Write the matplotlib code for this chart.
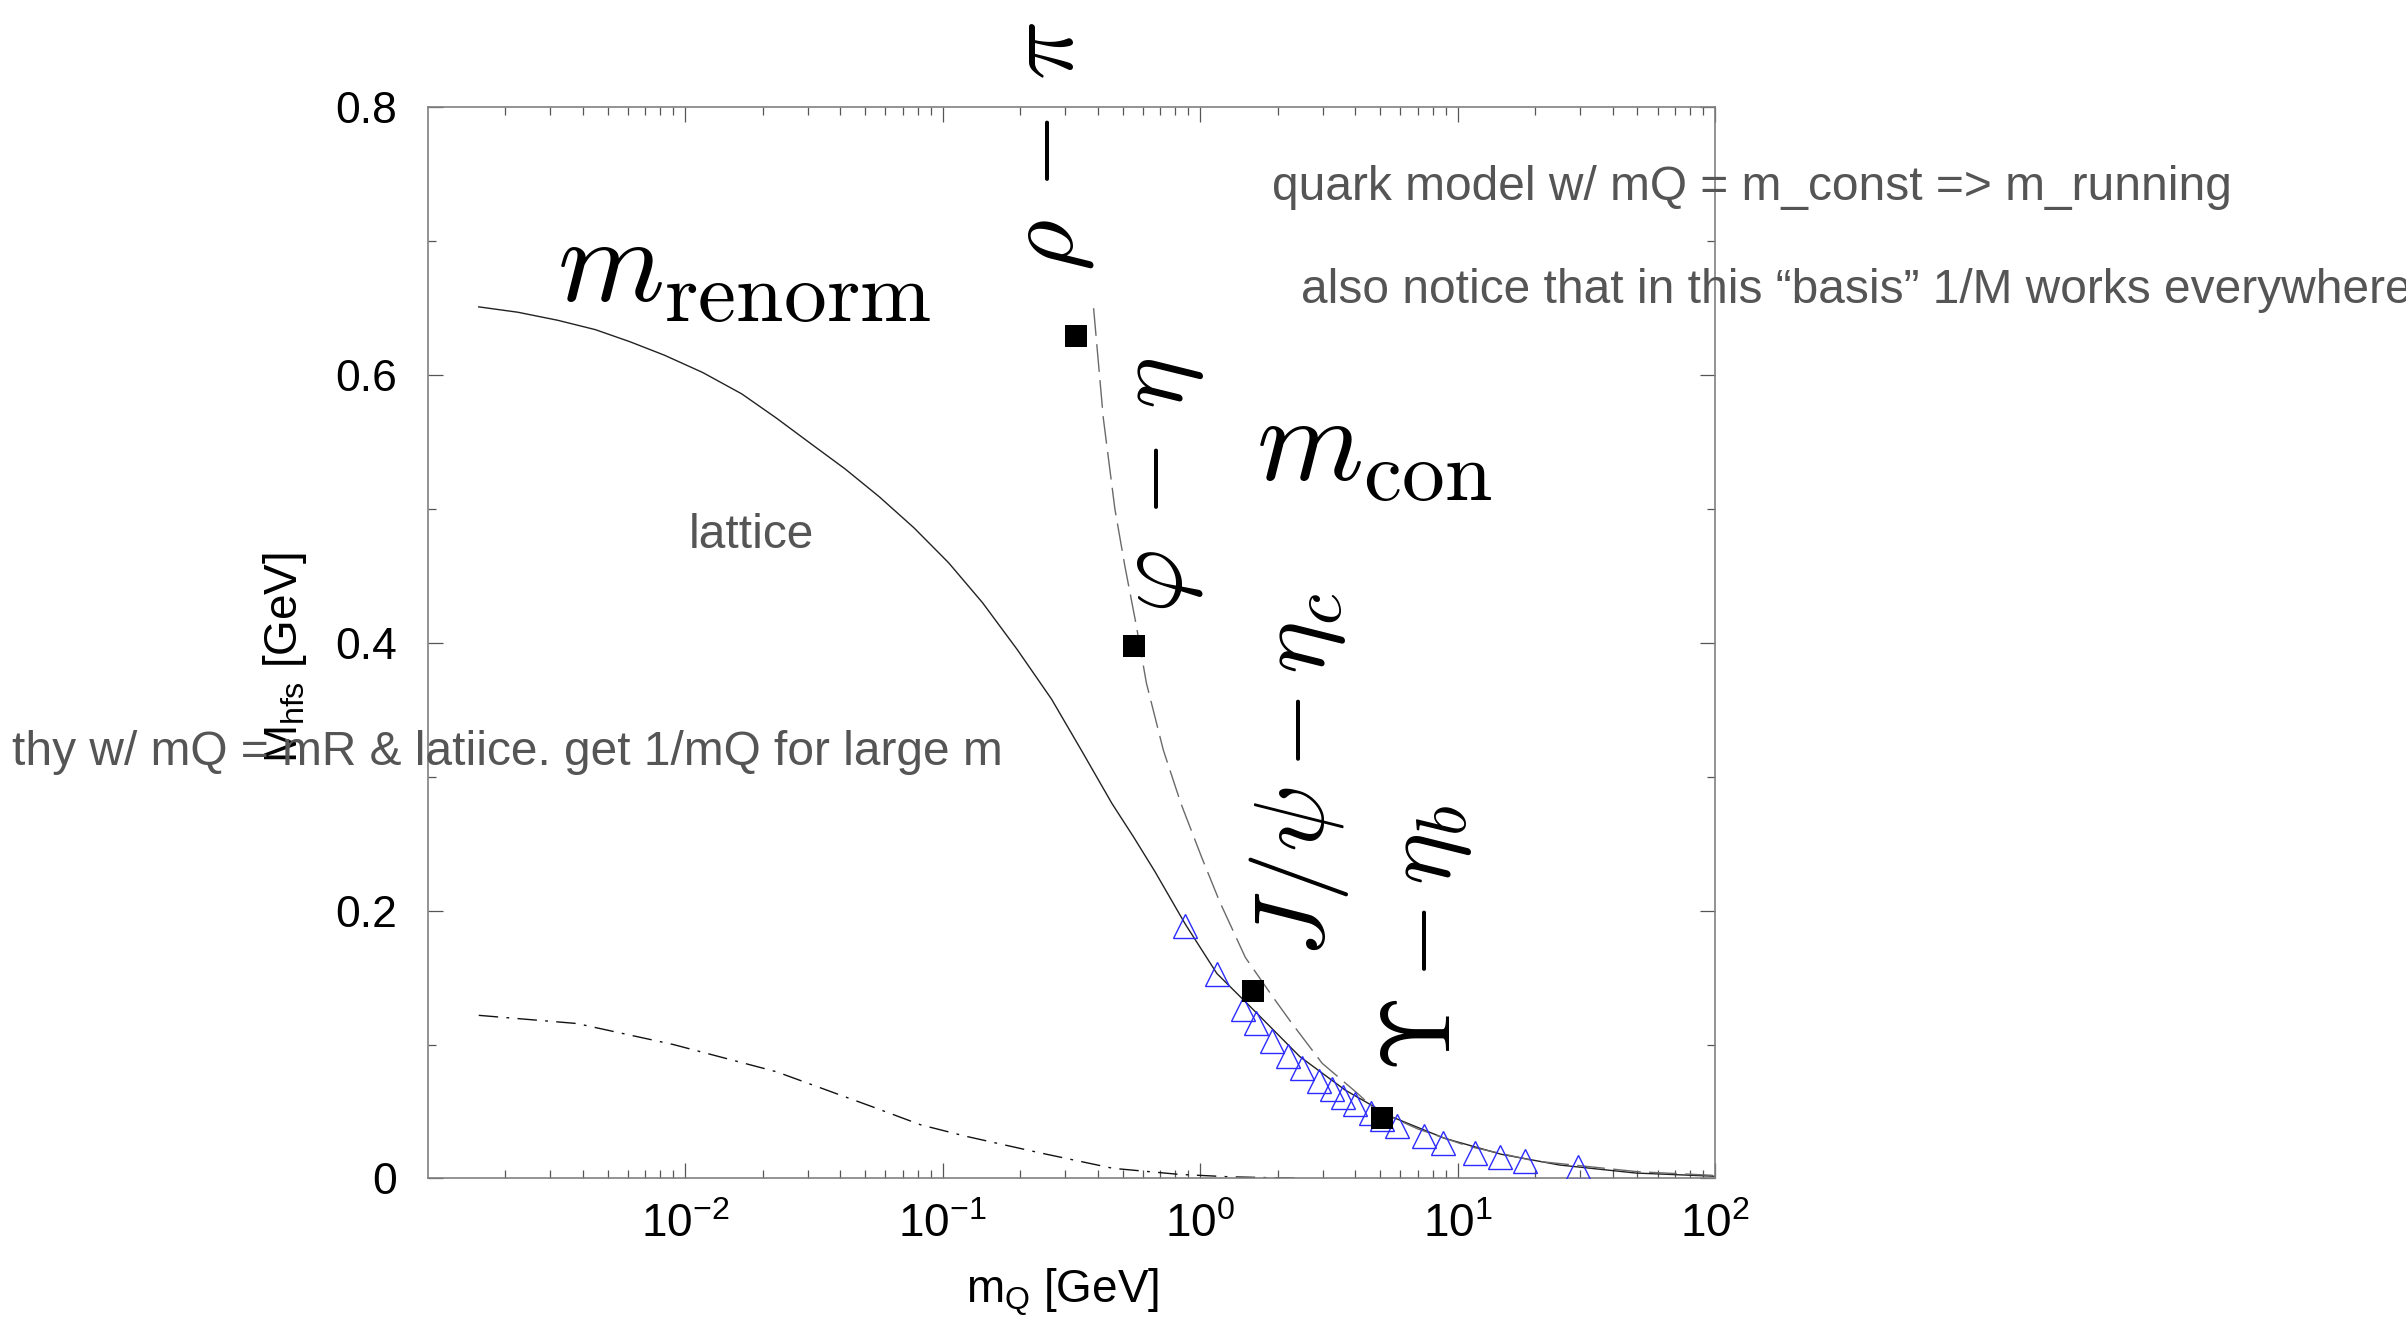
import matplotlib
matplotlib.use("Agg")
import matplotlib.pyplot as plt
from matplotlib.ticker import FixedLocator, FixedFormatter, NullFormatter

plt.rcParams['font.family'] = ['Liberation Sans', 'DejaVu Sans']
plt.rcParams['mathtext.fontset'] = 'custom'
plt.rcParams['mathtext.rm'] = 'Liberation Sans'
plt.rcParams['mathtext.it'] = 'Liberation Sans'
plt.rcParams['mathtext.sf'] = 'Liberation Sans'
plt.rcParams['mathtext.bf'] = 'Liberation Sans:bold'

# ---------------- data ----------------
# solid curve: m_renorm (theory)
renorm_x = [0.00158, 0.00224, 0.0032, 0.00448, 0.0061, 0.00829, 0.0117, 0.0166,
            0.0226, 0.0307, 0.0418, 0.0569, 0.0774, 0.1054, 0.143, 0.195,
            0.265, 0.348, 0.455, 0.552, 0.669, 0.876, 1.163, 1.611, 2.44,
            3.66, 5.55, 8.89, 14.8, 24.9, 49.3, 100.0]
renorm_y = [0.651, 0.647, 0.641, 0.634, 0.625, 0.615, 0.602, 0.586,
            0.568, 0.549, 0.530, 0.509, 0.486, 0.460, 0.430, 0.395,
            0.358, 0.319, 0.280, 0.255, 0.229, 0.190, 0.153, 0.126, 0.091,
            0.066, 0.046, 0.030, 0.018, 0.010, 0.004, 0.0016]

# dashed curve: m_con (quark model)
con_x = [0.386, 0.421, 0.467, 0.511, 0.563, 0.619, 0.72, 0.843, 1.014, 1.19,
         1.50, 1.91, 2.27, 2.98, 4.06, 4.82, 7.0, 11.0, 20.0, 50.0, 100.0]
con_y = [0.650, 0.568, 0.500, 0.457, 0.415, 0.370, 0.320, 0.280, 0.240, 0.207,
         0.165, 0.136, 0.116, 0.086, 0.064, 0.051, 0.037, 0.024, 0.013, 0.005, 0.0022]

# dash-dot curve
dd_x = [0.00158, 0.0038, 0.0090, 0.0226, 0.0527, 0.0823, 0.123, 0.24, 0.46,
        0.83, 1.3, 1.9, 2.5]
dd_y = [0.1218, 0.1157, 0.1000, 0.0797, 0.0539, 0.0400, 0.0315, 0.0190, 0.0075,
        0.0030, 0.0012, 0.0005, 0.0002]

# experimental splittings (filled squares)
exp_x = [0.329, 0.555, 1.611, 5.07]
exp_y = [0.629, 0.398, 0.140, 0.045]

# lattice points (open triangles)
lat_x = [0.876, 1.163, 1.464, 1.655, 1.911, 2.191, 2.488, 2.901, 3.249, 3.600,
         3.990, 4.623, 5.105, 5.815, 7.391, 8.768, 11.73, 14.65, 18.31, 29.36]
lat_y = [0.1888, 0.1527, 0.1263, 0.1158, 0.1029, 0.0917, 0.0827, 0.0728, 0.0668, 0.0610,
         0.0556, 0.0491, 0.0446, 0.0391, 0.0317, 0.0262, 0.0192, 0.0162, 0.0130, 0.0083]

x_major = [1e-2, 1e-1, 1e0, 1e1, 1e2]
x_labels = [r'$10^{-2}$', r'$10^{-1}$', r'$10^{0}$', r'$10^{1}$', r'$10^{2}$']
y_major = [0.0, 0.2, 0.4, 0.6, 0.8]
y_labels = ['0', '0.2', '0.4', '0.6', '0.8']
y_minor = [0.1, 0.3, 0.5, 0.7]

W, H = 2406, 1333
fig = plt.figure(figsize=(W / 100, H / 100), dpi=100)
fig.patch.set_facecolor('white')


def fx(px):
    return px / W


def fy(py):
    return 1 - py / H


ax = fig.add_axes([fx(427.6), fy(1178.4), (1715 - 427.6) / W, (1178.4 - 107.4) / H])
ax.set_xscale('log')
ax.set_xlim(1e-3, 1e2)
ax.set_ylim(0, 0.8)

ax.plot(renorm_x, renorm_y, color='#222222', lw=1.0, zorder=2)
ax.plot(con_x, con_y, color='#6a6a6a', lw=1.0, dashes=(20, 6), zorder=2)
ax.plot(dd_x, dd_y, color='#111111', lw=1.0, dashes=(14, 6, 2, 6), zorder=2)
ax.plot(lat_x, lat_y, linestyle='none', marker='^', ms=17, mfc='none',
        mec='#2b2bff', mew=1.0, zorder=3)
ax.plot(exp_x, exp_y, linestyle='none', marker='s', ms=16, mfc='black',
        mec='black', mew=0, zorder=4)

ax.xaxis.set_major_locator(FixedLocator(x_major))
ax.xaxis.set_major_formatter(FixedFormatter(x_labels))
minors = []
for d in [1e-3, 1e-2, 1e-1, 1e0, 1e1]:
    for k in range(2, 10):
        minors.append(k * d)
ax.xaxis.set_minor_locator(FixedLocator(minors))
ax.xaxis.set_minor_formatter(NullFormatter())
ax.yaxis.set_major_locator(FixedLocator(y_major))
ax.yaxis.set_major_formatter(FixedFormatter(y_labels))
ax.yaxis.set_minor_locator(FixedLocator(y_minor))

ax.tick_params(which='both', direction='in', top=True, right=True,
               color='#555555', width=0.9)
ax.tick_params(which='major', length=11)
ax.tick_params(which='minor', length=5.5)
ax.tick_params(axis='y', which='major', labelsize=32, pad=22)
ax.tick_params(axis='x', which='major', labelsize=33, pad=18)
for sp in ax.spines.values():
    sp.set_color('#808080')
    sp.set_linewidth(1.2)

# axis labels
fig.text(fx(285), fy(658), r'$M_{hfs}$ [GeV]', rotation=90, ha='center',
         va='center', fontsize=33, color='black')
fig.text(fx(1063), fy(1292), r'$m_Q$ [GeV]', ha='center', va='center',
         fontsize=33, color='black')

# physics labels (Computer Modern)
fig.text(fx(557), fy(302), r'$m_{\rm renorm}$', ha='left', va='baseline',
         fontsize=88, math_fontfamily='cm')
fig.text(fx(1256), fy(481), r'$m_{\rm con}$', ha='left', va='baseline',
         fontsize=88, math_fontfamily='cm')
for s, bx, cy, fs in [(r'$\rho\,-\,\pi$', 1073, 146, 71),
                      (r'$\varphi\,-\,\eta$', 1182, 485, 71),
                      (r'$J/\psi-\eta_c$', 1324, 775, 72),
                      (r'$\Upsilon-\eta_b$', 1450, 938, 71)]:
    fig.text(fx(bx), fy(cy), s, rotation=90, rotation_mode='anchor',
             ha='center', va='baseline', fontsize=fs, math_fontfamily='cm')

# gray annotations
gray = '#555555'
fig.text(fx(1272), fy(200), 'quark model w/ mQ = m_const => m_running',
         ha='left', va='baseline', fontsize=34.5, color=gray)
fig.text(fx(1301), fy(303), 'also notice that in this \u201cbasis\u201d 1/M works everywhere',
         ha='left', va='baseline', fontsize=34.5, color=gray)
fig.text(fx(689), fy(548), 'lattice', ha='left', va='baseline', fontsize=34.5, color=gray)
fig.text(fx(12), fy(765), 'thy w/ mQ = mR & latiice. get 1/mQ for large m',
         ha='left', va='baseline', fontsize=34.5, color=gray)

fig.savefig('out.png', dpi=100, facecolor='white')
